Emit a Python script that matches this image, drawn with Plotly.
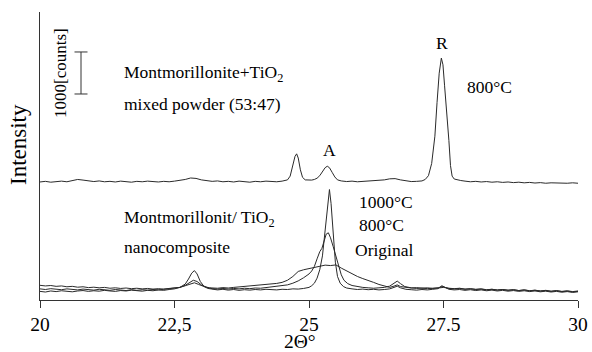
import plotly.graph_objects as go

# ---- data (2Theta in degrees, intensity in counts) ----
mixed_800 = [
    (20.0, 2810), (20.1, 2825), (20.2, 2805), (20.3, 2820), (20.4, 2830), (20.5, 2815),
    (20.6, 2840), (20.7, 2870), (20.8, 2855), (20.9, 2830), (21.0, 2820), (21.1, 2835),
    (21.2, 2815), (21.3, 2825), (21.4, 2810), (21.5, 2830), (21.6, 2820), (21.7, 2805),
    (21.8, 2825), (21.9, 2815), (22.0, 2830), (22.1, 2820), (22.2, 2810), (22.3, 2825),
    (22.4, 2815), (22.5, 2830), (22.6, 2845), (22.7, 2870), (22.8, 2905), (22.9, 2895),
    (23.0, 2860), (23.1, 2840), (23.2, 2825), (23.3, 2835), (23.4, 2815), (23.5, 2825),
    (23.6, 2810), (23.7, 2830), (23.8, 2820), (23.9, 2805), (24.0, 2825), (24.1, 2815),
    (24.2, 2830), (24.3, 2820), (24.4, 2815), (24.5, 2830), (24.6, 2860), (24.65, 2950),
    (24.7, 3180), (24.74, 3420), (24.77, 3480), (24.8, 3380), (24.84, 3100), (24.88, 2920),
    (24.93, 2860), (25.0, 2850), (25.05, 2855), (25.1, 2870), (25.15, 2900), (25.2, 2960),
    (25.25, 3060), (25.3, 3150), (25.34, 3185), (25.38, 3150), (25.43, 3040), (25.48, 2930),
    (25.53, 2860), (25.6, 2835), (25.7, 2820), (25.8, 2830), (25.9, 2815), (26.0, 2825),
    (26.1, 2820), (26.2, 2835), (26.3, 2840), (26.4, 2860), (26.5, 2885), (26.6, 2890),
    (26.7, 2860), (26.8, 2835), (26.9, 2820), (27.0, 2825), (27.1, 2835), (27.16, 2870),
    (27.22, 2960), (27.28, 3250), (27.34, 3900), (27.38, 4700), (27.42, 5400), (27.46, 5760),
    (27.49, 5600), (27.52, 5100), (27.56, 4500), (27.6, 3800), (27.63, 3200), (27.66, 2950),
    (27.7, 2880), (27.76, 2855), (27.82, 2845), (27.9, 2830), (28.0, 2815), (28.1, 2825),
    (28.2, 2810), (28.3, 2820), (28.4, 2805), (28.5, 2815), (28.6, 2800), (28.7, 2810),
    (28.8, 2795), (28.9, 2805), (29.0, 2790), (29.1, 2800), (29.2, 2785), (29.3, 2795),
    (29.4, 2780), (29.5, 2790), (29.6, 2785), (29.7, 2795), (29.8, 2780), (29.9, 2790),
    (30.0, 2780),
]

nano_1000 = [
    (20.0, 205), (20.1, 190), (20.2, 215), (20.3, 200), (20.4, 220), (20.5, 205), (20.6, 195),
    (20.7, 215), (20.8, 225), (20.9, 205), (21.0, 220), (21.1, 210), (21.2, 230), (21.3, 215),
    (21.4, 205), (21.5, 225), (21.6, 215), (21.7, 235), (21.8, 220), (21.9, 210), (22.0, 230),
    (22.1, 220), (22.2, 240), (22.3, 230), (22.4, 250), (22.5, 265), (22.6, 300), (22.7, 380),
    (22.76, 500), (22.82, 640), (22.87, 700), (22.92, 620), (22.98, 440), (23.05, 320),
    (23.12, 275), (23.2, 255), (23.3, 240), (23.4, 255), (23.5, 235), (23.6, 250), (23.7, 230),
    (23.8, 245), (23.9, 235), (24.0, 250), (24.1, 240), (24.2, 255), (24.3, 245), (24.4, 240),
    (24.5, 255), (24.6, 250), (24.7, 265), (24.8, 260), (24.9, 275), (25.0, 300), (25.05, 340),
    (25.1, 400), (25.15, 520), (25.2, 720), (25.25, 1050), (25.3, 1650), (25.34, 2250),
    (25.38, 2630), (25.41, 2300), (25.45, 1500), (25.49, 900), (25.53, 560), (25.58, 400),
    (25.64, 320), (25.7, 285), (25.8, 265), (25.9, 250), (26.0, 260), (26.1, 245), (26.2, 255),
    (26.3, 240), (26.4, 250), (26.5, 265), (26.58, 300), (26.64, 330), (26.7, 290), (26.8, 255),
    (26.9, 245), (27.0, 235), (27.1, 250), (27.2, 240), (27.3, 255), (27.4, 270), (27.47, 340),
    (27.53, 300), (27.6, 255), (27.7, 240), (27.8, 250), (27.9, 230), (28.0, 245), (28.1, 225),
    (28.2, 240), (28.3, 220), (28.4, 235), (28.5, 215), (28.6, 230), (28.7, 210), (28.8, 225),
    (28.9, 205), (29.0, 220), (29.1, 200), (29.2, 215), (29.3, 195), (29.4, 210), (29.5, 190),
    (29.6, 205), (29.7, 185), (29.8, 200), (29.9, 180), (30.0, 195),
]

nano_800 = [
    (20.0, 265), (20.1, 250), (20.2, 270), (20.3, 255), (20.4, 245), (20.5, 265), (20.6, 250),
    (20.7, 240), (20.8, 260), (20.9, 245), (21.0, 235), (21.1, 255), (21.2, 240), (21.3, 230),
    (21.4, 250), (21.5, 235), (21.6, 225), (21.7, 245), (21.8, 230), (21.9, 245), (22.0, 235),
    (22.1, 250), (22.2, 240), (22.3, 255), (22.4, 265), (22.5, 275), (22.6, 300), (22.7, 350),
    (22.78, 420), (22.85, 470), (22.92, 440), (23.0, 360), (23.1, 300), (23.2, 270), (23.3, 260),
    (23.4, 275), (23.5, 260), (23.6, 275), (23.7, 265), (23.8, 280), (23.9, 270), (24.0, 285),
    (24.1, 280), (24.2, 295), (24.3, 300), (24.4, 315), (24.5, 330), (24.6, 360), (24.7, 400),
    (24.8, 455), (24.9, 530), (25.0, 620), (25.05, 690), (25.1, 800), (25.15, 980),
    (25.2, 1150), (25.24, 1230), (25.28, 1400), (25.32, 1570), (25.36, 1600), (25.4, 1480),
    (25.45, 1270), (25.5, 1030), (25.55, 790), (25.6, 600), (25.65, 470), (25.72, 390),
    (25.8, 345), (25.9, 315), (26.0, 300), (26.1, 290), (26.2, 280), (26.3, 290), (26.4, 300),
    (26.5, 330), (26.57, 400), (26.64, 450), (26.7, 390), (26.78, 320), (26.9, 290), (27.0, 275),
    (27.1, 285), (27.2, 270), (27.3, 280), (27.4, 290), (27.47, 320), (27.55, 290), (27.6, 275),
    (27.7, 265), (27.8, 275), (27.9, 255), (28.0, 265), (28.1, 250), (28.2, 260), (28.3, 240),
    (28.4, 255), (28.5, 235), (28.6, 250), (28.7, 230), (28.8, 245), (28.9, 225), (29.0, 240),
    (29.1, 220), (29.2, 235), (29.3, 215), (29.4, 230), (29.5, 210), (29.6, 225), (29.7, 205),
    (29.8, 220), (29.9, 200), (30.0, 215),
]

nano_original = [
    (20.0, 350), (20.1, 335), (20.2, 345), (20.3, 325), (20.4, 335), (20.5, 315), (20.6, 325),
    (20.7, 305), (20.8, 315), (20.9, 295), (21.0, 305), (21.1, 290), (21.2, 300), (21.3, 280),
    (21.4, 290), (21.5, 275), (21.6, 285), (21.7, 270), (21.8, 280), (21.9, 265), (22.0, 275),
    (22.1, 260), (22.2, 270), (22.3, 260), (22.4, 275), (22.5, 280), (22.6, 300), (22.7, 340),
    (22.8, 390), (22.87, 410), (22.95, 370), (23.05, 320), (23.15, 290), (23.3, 280),
    (23.4, 295), (23.5, 285), (23.6, 300), (23.7, 310), (23.8, 320), (23.9, 330), (24.0, 345),
    (24.1, 355), (24.2, 370), (24.3, 380), (24.4, 395), (24.5, 420), (24.6, 470), (24.7, 560),
    (24.8, 680), (24.9, 720), (25.0, 750), (25.1, 770), (25.2, 800), (25.3, 830), (25.4, 820),
    (25.5, 835), (25.6, 760), (25.7, 690), (25.8, 610), (25.9, 560), (26.0, 510), (26.1, 470),
    (26.2, 420), (26.3, 370), (26.4, 330), (26.5, 300), (26.58, 330), (26.64, 360), (26.7, 320),
    (26.8, 295), (26.9, 285), (27.0, 295), (27.1, 280), (27.2, 290), (27.3, 275), (27.4, 285),
    (27.5, 300), (27.6, 280), (27.7, 270), (27.8, 280), (27.9, 260), (28.0, 270), (28.1, 255),
    (28.2, 265), (28.3, 245), (28.4, 255), (28.5, 240), (28.6, 250), (28.7, 235), (28.8, 245),
    (28.9, 225), (29.0, 240), (29.1, 220), (29.2, 230), (29.3, 215), (29.4, 225), (29.5, 205),
    (29.6, 220), (29.7, 200), (29.8, 210), (29.9, 195), (30.0, 205),
]

tick_vals = [20, 22.5, 25, 27.5, 30]
tick_text = ["20", "22,5", "25", "27.5", "30"]
scale_bar_counts = 1000
scale_bar_base = 4905

# ---- figure ----
W, H = 592, 352
L, R, T, B = 40, 14, 12, 52
PW, PH = W - L - R, H - T - B
FONT = "Liberation Serif"
LINE = "#2a2a2a"


def px(x):
    return (x - L) / PW


def py(y):
    return (H - B - y) / PH


fig = go.Figure()
for series in (nano_original, nano_800, nano_1000, mixed_800):
    xs = [p[0] for p in series]
    ys = [p[1] for p in series]
    fig.add_trace(go.Scatter(x=xs, y=ys, mode="lines",
                             line=dict(color=LINE, width=1), showlegend=False,
                             hoverinfo="skip"))

fig.update_layout(
    template="none",
    width=W, height=H,
    margin=dict(l=L, r=R, t=T, b=B, pad=0, autoexpand=False),
    paper_bgcolor="white", plot_bgcolor="white",
    font=dict(family=FONT, color="black", size=17.5),
    xaxis=dict(range=[20, 30], showgrid=False, zeroline=False, automargin=False,
               showline=True, linecolor="#333", linewidth=1,
               ticks="outside", ticklen=7, tickcolor="#333", tickwidth=1,
               tickvals=tick_vals, ticktext=tick_text,
               tickfont=dict(family=FONT, size=19.5, color="black")),
    yaxis=dict(range=[0, 6857], showgrid=False, zeroline=False, automargin=False,
               showline=True, linecolor="#333", linewidth=1,
               showticklabels=False, ticks=""),
)

# scale bar (1000 counts)
xb = px(81)
cap = 6.5 / PW
sb_kw = dict(xref="paper", yref="y", line=dict(color="#333", width=1))
fig.add_shape(type="line", x0=xb, x1=xb, y0=scale_bar_base,
              y1=scale_bar_base + scale_bar_counts, **sb_kw)
fig.add_shape(type="line", x0=xb - cap, x1=xb + cap, y0=scale_bar_base,
              y1=scale_bar_base, **sb_kw)
fig.add_shape(type="line", x0=xb - cap, x1=xb + cap,
              y0=scale_bar_base + scale_bar_counts,
              y1=scale_bar_base + scale_bar_counts, **sb_kw)


def note(text, x, y, xanchor="left", size=17.5, angle=0):
    fig.add_annotation(text=text, x=px(x), y=py(y), xref="paper", yref="paper",
                       xanchor=xanchor, yanchor="middle", showarrow=False,
                       textangle=angle, font=dict(family=FONT, size=size, color="black"))


note("1000[counts]", 60, 73, xanchor="center", size=17, angle=-90)
note("Montmorillonite+TiO<sub>2</sub>", 122, 73)
note("mixed powder (53:47)", 122, 104)
note("R", 442, 43, xanchor="center")
note("A", 329, 150, xanchor="center")
note("800°C", 465, 87)
note("1000°C", 357, 202)
note("800°C", 357, 225)
note("Original", 353, 250)
note("Montmorillonit/ TiO<sub>2</sub>", 122, 218)
note("nanocomposite", 122, 247)
note("Intensity", 18, 145, xanchor="center", size=23, angle=-90)
note("2Θ°", 300, 341, xanchor="center", size=19.5)

fig.write_html("out.html")
